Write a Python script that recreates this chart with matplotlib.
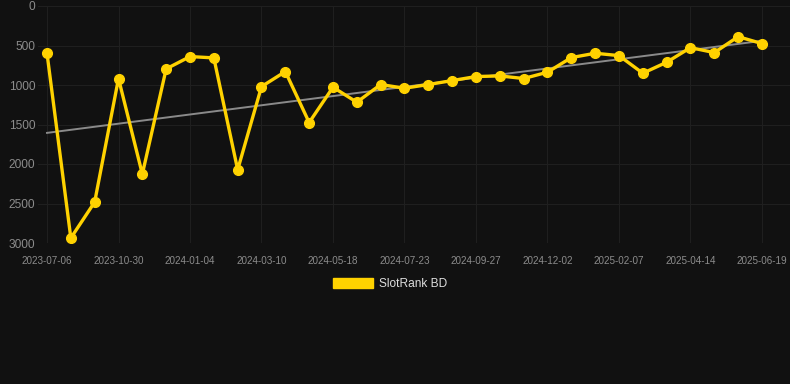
#!/usr/bin/env python3
"""
SlotRank BD rank history: yellow line with markers, trend line, inverted y axis.
"""

import numpy as np
import matplotlib
matplotlib.use('Agg')
import matplotlib.pyplot as plt
from matplotlib.patches import Patch

# rank values, one per sample (x axis is categorical, every 3rd sample labelled)
ranks = [598, 2937, 2482, 918, 2128, 796, 640, 657, 2073, 1020,
         830, 1475, 1028, 1218, 994, 1041, 994, 944, 893, 885,
         918, 838, 653, 598, 628, 851, 712, 527, 590, 388, 476]
tick_labels = ['2023-07-06', '2023-10-30', '2024-01-04', '2024-03-10',
               '2024-05-18', '2024-07-23', '2024-09-27', '2024-12-02',
               '2025-02-07', '2025-04-14', '2025-06-19']
y_ticks = [0, 500, 1000, 1500, 2000, 2500, 3000]
series_name = 'SlotRank BD'

BG = '#111111'
GOLD = '#FFD200'

plt.rcParams['font.family'] = ['Liberation Sans', 'DejaVu Sans']

fig = plt.figure(figsize=(7.9, 3.84), dpi=100, facecolor=BG)
ax = fig.add_axes([38 / 790, 1 - 243 / 384, 752 / 790, 237 / 384])
ax.set_facecolor(BG)

x = np.arange(len(ranks))

# trend line (least squares fit)
coef = np.polyfit(x, ranks, 1)
ax.plot([x[0], x[-1]], np.polyval(coef, [x[0], x[-1]]), color='#8a8a8a',
        linewidth=1.4, zorder=2)

ax.plot(x, ranks, color=GOLD, linewidth=2.4, marker='o', markersize=7,
        zorder=3)

ax.set_ylim(3000, 0)
ax.set_xlim(-9 / 23.83, 30 + 28 / 23.83)
ax.set_yticks(y_ticks)
ax.set_yticklabels([str(v) for v in y_ticks])
ax.set_xticks(x[::3])
ax.set_xticklabels(tick_labels)

ax.tick_params(axis='y', length=0, pad=2, labelsize=8.6, labelcolor='#8c8c8c')
ax.tick_params(axis='x', length=0, pad=9, labelsize=7.1, labelcolor='#8c8c8c')

ax.grid(True, color='#1f1f1f', linewidth=0.8)
ax.set_axisbelow(True)
for s in ax.spines.values():
    s.set_visible(False)

fig.legend(handles=[Patch(facecolor=GOLD, edgecolor=GOLD)], labels=[series_name],
           loc='center', bbox_to_anchor=(390 / 790, 1 - 284 / 384),
           frameon=False, fontsize=8.6, labelcolor='#dddddd',
           handlelength=3.4, handleheight=0.95, handletextpad=0.5)

plt.savefig('out.png', dpi=100, facecolor=BG)
